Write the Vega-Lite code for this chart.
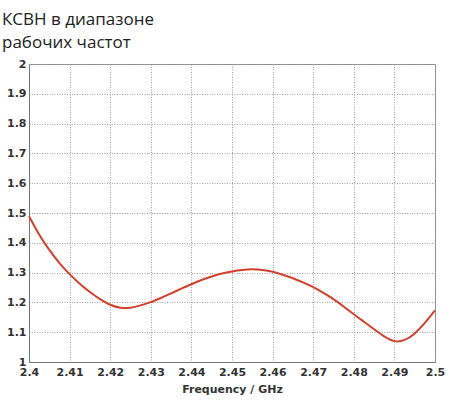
{
  "$schema": "https://vega.github.io/schema/vega-lite/v6.json",
  "width": 406,
  "height": 298,
  "autosize": "none",
  "padding": {"left": 29, "top": 64, "right": 15, "bottom": 41},
  "background": "white",
  "title": {
    "text": ["КСВН в диапазоне", "рабочих частот"],
    "anchor": "start",
    "frame": "group",
    "dx": -27,
    "offset": 6,
    "font": "Open Sans",
    "fontSize": 17,
    "fontWeight": "normal",
    "color": "#222222",
    "lineHeight": 23
  },
  "config": {
    "view": {"stroke": "#8a8a8a", "strokeWidth": 1},
    "axis": {
      "labelFont": "DejaVu Sans",
      "labelFontWeight": "bold",
      "labelFontSize": 11,
      "labelColor": "#333333",
      "titleFont": "DejaVu Sans",
      "titleFontWeight": "bold",
      "titleFontSize": 11,
      "titleColor": "#333333",
      "domainColor": "#777777",
      "ticks": false,
      "gridColor": "#a0a0a0",
      "gridDash": [1, 1.5],
      "gridWidth": 1,
      "gridOpacity": 1
    }
  },
  "data": {
    "values": [
      {"f": 2.4, "v": 1.489},
      {"f": 2.4025, "v": 1.428},
      {"f": 2.405, "v": 1.376},
      {"f": 2.4075, "v": 1.332},
      {"f": 2.41, "v": 1.295},
      {"f": 2.4125, "v": 1.263},
      {"f": 2.415, "v": 1.235},
      {"f": 2.4175, "v": 1.211},
      {"f": 2.42, "v": 1.192},
      {"f": 2.4225, "v": 1.182},
      {"f": 2.425, "v": 1.182},
      {"f": 2.4275, "v": 1.19},
      {"f": 2.43, "v": 1.201},
      {"f": 2.4325, "v": 1.215},
      {"f": 2.435, "v": 1.23},
      {"f": 2.4375, "v": 1.246},
      {"f": 2.44, "v": 1.261},
      {"f": 2.4425, "v": 1.275},
      {"f": 2.445, "v": 1.287},
      {"f": 2.4475, "v": 1.297},
      {"f": 2.45, "v": 1.304},
      {"f": 2.4525, "v": 1.309},
      {"f": 2.455, "v": 1.311},
      {"f": 2.4575, "v": 1.309},
      {"f": 2.46, "v": 1.303},
      {"f": 2.4625, "v": 1.293},
      {"f": 2.465, "v": 1.281},
      {"f": 2.4675, "v": 1.267},
      {"f": 2.47, "v": 1.251},
      {"f": 2.4725, "v": 1.232},
      {"f": 2.475, "v": 1.211},
      {"f": 2.4775, "v": 1.186},
      {"f": 2.48, "v": 1.16},
      {"f": 2.4825, "v": 1.135},
      {"f": 2.485, "v": 1.11},
      {"f": 2.4875, "v": 1.086},
      {"f": 2.49, "v": 1.07},
      {"f": 2.4925, "v": 1.074},
      {"f": 2.495, "v": 1.096},
      {"f": 2.4975, "v": 1.131},
      {"f": 2.5, "v": 1.173}
    ]
  },
  "mark": {"type": "line", "color": "#d2402e", "strokeWidth": 2, "interpolate": "natural"},
  "encoding": {
    "x": {
      "field": "f",
      "type": "quantitative",
      "scale": {"domain": [2.4, 2.5], "nice": false, "zero": false},
      "axis": {
        "title": "Frequency / GHz",
        "values": [2.4, 2.41, 2.42, 2.43, 2.44, 2.45, 2.46, 2.47, 2.48, 2.49, 2.5],
        "format": ".2~f",
        "labelOverlap": false,
        "labelFlush": false,
        "labelPadding": 4,
        "titlePadding": 6
      }
    },
    "y": {
      "field": "v",
      "type": "quantitative",
      "scale": {"domain": [1, 2], "nice": false, "zero": false},
      "axis": {
        "title": null,
        "values": [1, 1.1, 1.2, 1.3, 1.4, 1.5, 1.6, 1.7, 1.8, 1.9, 2],
        "format": ".1~f",
        "labelOverlap": false,
        "labelFlush": false,
        "labelPadding": 3
      }
    }
  }
}
